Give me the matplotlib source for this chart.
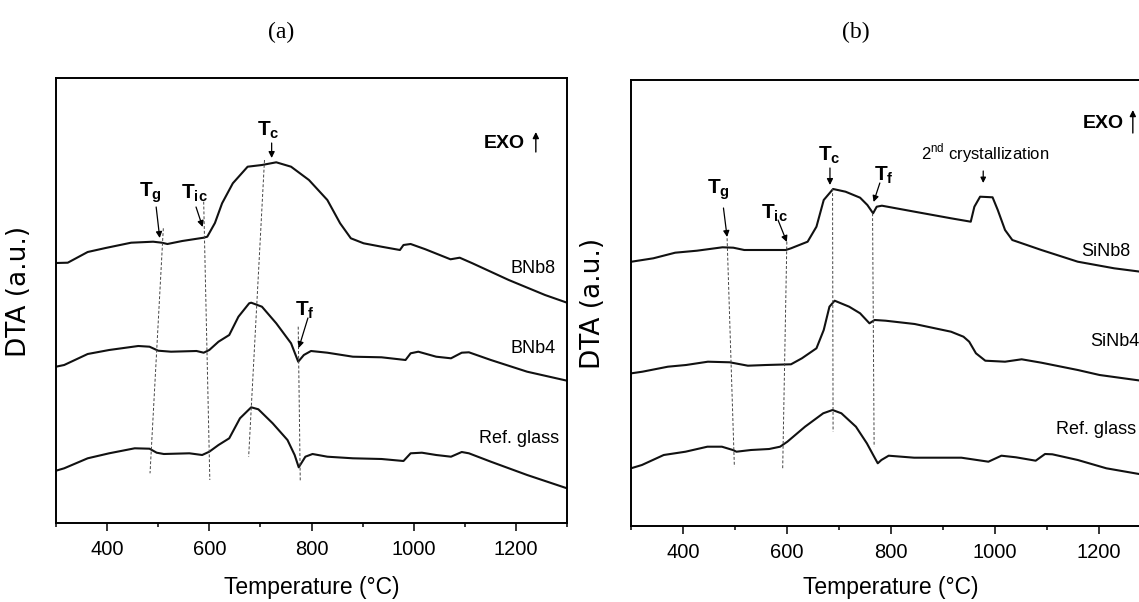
import matplotlib
matplotlib.use("Agg")
import matplotlib.pyplot as plt

plt.rcParams["font.family"] = ["Liberation Sans", "DejaVu Sans"]
plt.rcParams["mathtext.fontset"] = "custom"
plt.rcParams["mathtext.rm"] = "Liberation Sans"
plt.rcParams["mathtext.bf"] = "Liberation Sans:bold"

# ---- panel (a) curves (temperature in degC, DTA in a.u.) ----
bnb8_t = [300, 323, 362, 397, 447, 490, 507, 518, 547, 589, 596, 611, 625, 646, 675, 703,
          731, 760, 795, 831, 856, 877, 902, 937, 973, 980, 994, 1023, 1072, 1090, 1115,
          1186, 1257, 1300]
bnb8_y = [260, 260.3, 271, 275, 280.3, 281.3, 280.3, 279, 282, 285.3, 286.3, 300, 319.7,
          339.7, 356.3, 358, 360.7, 356.3, 343, 323, 299.7, 284.7, 279.7, 276.3, 273, 278,
          279, 273.7, 263.7, 265.3, 259.7, 243, 228, 220.3]

bnb4_t = [300, 316, 362, 404, 461, 483, 500, 525, 575, 589, 600, 618, 639, 657, 678, 682,
          703, 731, 760, 774, 785, 799, 831, 881, 937, 984, 994, 1009, 1044, 1073, 1094,
          1108, 1151, 1222, 1300]
bnb4_y = [156.3, 158, 169, 173, 177, 176.3, 172.3, 171.3, 172, 170.3, 173, 181.3, 188,
          206.3, 219.7, 220.3, 216.3, 199.7, 179.7, 161.3, 168, 172, 170.3, 166.3, 165.7,
          163, 169.7, 171.3, 166.3, 164.7, 170.3, 170.7, 163, 151.3, 142.3]

refa_t = [300, 316, 362, 404, 454, 483, 497, 511, 561, 586, 600, 618, 639, 660, 682, 696,
          724, 753, 767, 775, 788, 802, 831, 881, 937, 980, 994, 1016, 1044, 1073, 1094,
          1108, 1151, 1222, 1300]
refa_y = [52.3, 54.7, 64.7, 69.7, 74.7, 74.3, 70.3, 69, 69.7, 68, 71.3, 78, 84.7, 104.7,
          115.7, 113.7, 99.7, 83, 68, 55.7, 66.3, 69, 66.3, 64.7, 64, 62, 69.7, 70.3, 68,
          66.3, 71, 69.7, 61.3, 48, 34.7]

# ---- panel (b) curves ----
sinb8_t = [301, 343, 385, 427, 476, 497, 518, 553, 598, 608, 640, 657, 671, 689, 713, 741,
           755, 766, 773, 783, 846, 916, 954, 961, 972, 996, 1006, 1020, 1034, 1090, 1160,
           1230, 1300]
sinb8_y = [265.3, 268.7, 274.3, 276.3, 279.7, 279.3, 277, 277, 277, 278.7, 285.3, 300.3,
           327, 338, 335.3, 329.3, 322, 313.7, 320.3, 321.3, 315.3, 308.7, 305.3, 320.3,
           330.3, 329.7, 317, 297, 287, 277, 265.3, 258.7, 254]

sinb4_t = [301, 322, 371, 406, 448, 490, 525, 560, 608, 629, 657, 671, 682, 692, 720, 741,
           759, 769, 790, 846, 916, 940, 951, 964, 982, 1020, 1052, 1090, 1160, 1202, 1300]
sinb4_y = [153.7, 155.3, 160.3, 162, 165.3, 164.7, 161.3, 162, 162.7, 168.7, 178.7, 197,
           220.3, 226.3, 220.3, 213.7, 203.7, 207, 206.3, 203, 195.3, 190.3, 185.3, 173.7,
           166.3, 165.3, 167.7, 164.3, 157, 152, 145]

refb_t = [300, 321, 363, 405, 447, 475, 496, 503, 531, 566, 587, 601, 635, 670, 688, 705,
          733, 754, 768, 775, 782, 796, 845, 936, 988, 1013, 1041, 1079, 1097, 1111, 1160,
          1215, 1300]
refb_y = [58.7, 62, 72, 75.3, 80.3, 80.3, 77, 75.3, 77, 78, 80.3, 85.3, 100.3, 113.7, 117,
          113.7, 100.3, 83.7, 70.3, 63.7, 67, 71.3, 69.3, 69.3, 65.3, 71.3, 69.7, 66.3, 73,
          72.7, 67, 58.7, 51]

# dashed guide lines: (t_top, y_top, t_bottom, y_bottom)
guides_a = [(510, 294.7, 484, 49.7), (589, 321.3, 601, 43),
            (708, 363, 677, 66.3), (774, 196.3, 778, 41.3)]
guides_b = [(485, 288.7, 499, 60.3), (600, 285.3, 592, 58.7),
            (688, 338.7, 689, 95.3), (765, 313.7, 768, 80.3)]

# event labels: text, text position, arrow start, arrow end
events_a = [(r"$\mathbf{T_{g}}$", (485, 330), (496, 316), (503, 285)),
            (r"$\mathbf{T_{ic}}$", (571, 330), (574, 316), (587, 296)),
            (r"$\mathbf{T_{c}}$", (716, 393), (722, 380), (722, 365)),
            (r"$\mathbf{T_{f}}$", (788, 213), (793, 205), (775, 175))]
events_b = [(r"$\mathbf{T_{g}}$", (468, 337), (478, 319), (485, 290)),
            (r"$\mathbf{T_{ic}}$", (576, 314), (583, 307), (600, 285)),
            (r"$\mathbf{T_{c}}$", (681, 372), (683, 359), (683, 342)),
            (r"$\mathbf{T_{f}}$", (786, 352), (779, 344), (767, 325))]

names_a = ["BNb8", "BNb4", "Ref. glass"]
names_b = ["SiNb8", "SiNb4", "Ref. glass"]
name_pos_a = [(1278, 254.7), (1278, 174.7), (1285, 84.7)]
name_pos_b = [(1166, 275), (1184, 185), (1118, 97)]

major_ticks = [400, 600, 800, 1000, 1200]
minor_ticks = [300, 500, 700, 900, 1100, 1300]


def draw_panel(ax, curves, guides, events, names, name_pos, name_ha, exo_txt, exo_arrow, ylim):
    for t, y in curves:
        ax.plot(t, y, color="#111111", lw=1.5, solid_joinstyle="round")
    for t0, y0, t1, y1 in guides:
        ax.plot([t0, t1], [y0, y1], color="#444444", lw=0.7, ls=(0, (3, 2)))
    for txt, pos, a0, a1 in events:
        ax.text(pos[0], pos[1], txt, fontsize=15, ha="center", va="center")
        ax.annotate("", xy=a1, xytext=a0,
                    arrowprops=dict(arrowstyle="-|>", lw=0.9, color="k",
                                    mutation_scale=9, shrinkA=0, shrinkB=0))
    for nm, (x, y) in zip(names, name_pos):
        ax.text(x, y, nm, fontsize=13, ha=name_ha, va="center")
    ax.text(exo_txt[0], exo_txt[1], "EXO", fontsize=14, fontweight="bold",
            ha="center", va="center")
    ax.annotate("", xy=(exo_arrow[0], exo_arrow[2]), xytext=(exo_arrow[0], exo_arrow[1]),
                arrowprops=dict(arrowstyle="-|>", lw=1.0, color="k",
                                mutation_scale=9, shrinkA=0, shrinkB=0))
    ax.set_xlim(300, 1300)
    ax.set_ylim(*ylim)
    ax.set_xticks(major_ticks)
    ax.set_xticks(minor_ticks, minor=True)
    ax.set_yticks([])
    ax.tick_params(axis="x", which="major", length=6, width=1.1, labelsize=14.5, pad=6)
    ax.tick_params(axis="x", which="minor", length=3, width=1.1)
    for s in ax.spines.values():
        s.set_linewidth(1.4)
    ax.set_xlabel("Temperature (°C)", fontsize=16.5)
    ax.set_ylabel("DTA (a.u.)", fontsize=19, family="DejaVu Sans")


fig = plt.figure(figsize=(11.39, 6.02), dpi=100)
ax_a = fig.add_axes([0.04917, 0.13123, 0.44864, 0.73920])
ax_b = fig.add_axes([0.55399, 0.12625, 0.45610, 0.74086])

draw_panel(ax_a, [(bnb8_t, bnb8_y), (bnb4_t, bnb4_y), (refa_t, refa_y)],
           guides_a, events_a, names_a, name_pos_a, "right",
           (1177, 380), (1239, 371, 391), (0, 445))
draw_panel(ax_b, [(sinb8_t, sinb8_y), (sinb4_t, sinb4_y), (refb_t, refb_y)],
           guides_b, events_b, names_b, name_pos_b, "left",
           (1210, 403.5), (1266, 394, 417), (1, 447))

# second crystallization note on panel (b)
ax_b.text(981, 374, r"2$^{\mathrm{nd}}$ crystallization", fontsize=12,
          ha="center", va="center")
ax_b.annotate("", xy=(978, 344), xytext=(978, 356),
              arrowprops=dict(arrowstyle="-|>", lw=0.9, color="k",
                              mutation_scale=8, shrinkA=0, shrinkB=0))

ax_a.xaxis.set_label_coords(0.5, -0.118)
ax_b.xaxis.set_label_coords(0.5, -0.112)
ax_a.yaxis.set_label_coords(-0.047, 0.52)
ax_b.yaxis.set_label_coords(-0.048, 0.50)

fig.text(281 / 1139, 1 - 32 / 602, "(a)", fontsize=17, family="Liberation Serif",
         ha="center", va="center")
fig.text(856 / 1139, 1 - 32 / 602, "(b)", fontsize=17, family="Liberation Serif",
         ha="center", va="center")

fig.savefig("out.png", dpi=100)
